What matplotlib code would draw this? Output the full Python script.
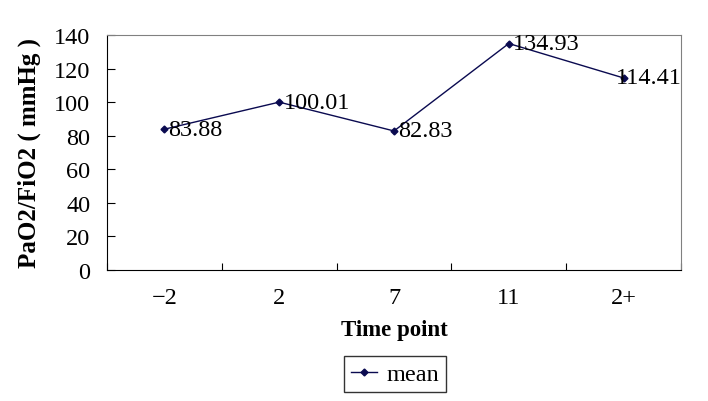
import matplotlib
matplotlib.use("Agg")
import matplotlib.pyplot as plt

# data
time_points = ["\u22122", "2", "7", "11", "2+"]
mean_values = [83.88, 100.01, 82.83, 134.93, 114.41]
y_ticks = [0, 20, 40, 60, 80, 100, 120, 140]

line_color = "#0a0a50"
num_font = ["Liberation Serif", "DejaVu Serif"]
num_size = 17.5

fig = plt.figure(figsize=(7.08, 4.02), dpi=100)
ax = fig.add_axes([107 / 708, 1 - 271 / 402, 574 / 708, 235 / 402])

xs = [i + 0.5 for i in range(len(time_points))]
ax.plot(xs, mean_values, color=line_color, lw=1.0, marker="D", markersize=3.5,
        label="mean")

# value labels to the right of each point; the last one is pushed left to stay inside
for i, (x, v) in enumerate(zip(xs, mean_values)):
    dx = 3 if i < len(xs) - 1 else -5.5
    ax.annotate(f"{v:.2f}", (x, v), xytext=(dx, 0), textcoords="offset points",
                ha="left", va="center", fontsize=num_size, family=num_font)

ax.set_xlim(0, len(time_points))
ax.set_ylim(0, 140)
ax.set_yticks(y_ticks)
ax.set_xticks(range(len(time_points) + 1))
ax.set_xticklabels([])
ax.set_xticks(xs, minor=True)
ax.set_xticklabels(time_points, minor=True)

ax.tick_params(axis="y", direction="in", length=6, pad=12, labelsize=num_size)
ax.tick_params(axis="x", which="major", direction="in", length=5)
ax.tick_params(axis="x", which="minor", length=0, pad=12.5, labelsize=num_size)
for lab in ax.get_yticklabels() + ax.get_xticklabels(minor=True):
    lab.set_family(num_font)

for side in ["top", "right"]:
    ax.spines[side].set_color("#808080")
for side in ["left", "bottom"]:
    ax.spines[side].set_color("black")

ax.set_xlabel("Time point", fontsize=16.5, fontweight="bold",
              family="Liberation Serif", labelpad=8)
ax.set_ylabel("PaO2/FiO2 ( mmHg )", fontsize=18, fontweight="bold",
              family="Liberation Serif", labelpad=9)

leg = fig.legend(loc="center", bbox_to_anchor=(395 / 708, 1 - 375 / 402),
                 fancybox=False, frameon=True, handlelength=1.05,
                 handletextpad=0.4, borderpad=0.3, borderaxespad=0,
                 prop={"family": num_font, "size": num_size})
leg.get_frame().set_edgecolor("black")
leg.get_frame().set_linewidth(1.0)

fig.savefig("out.png", dpi=100)
